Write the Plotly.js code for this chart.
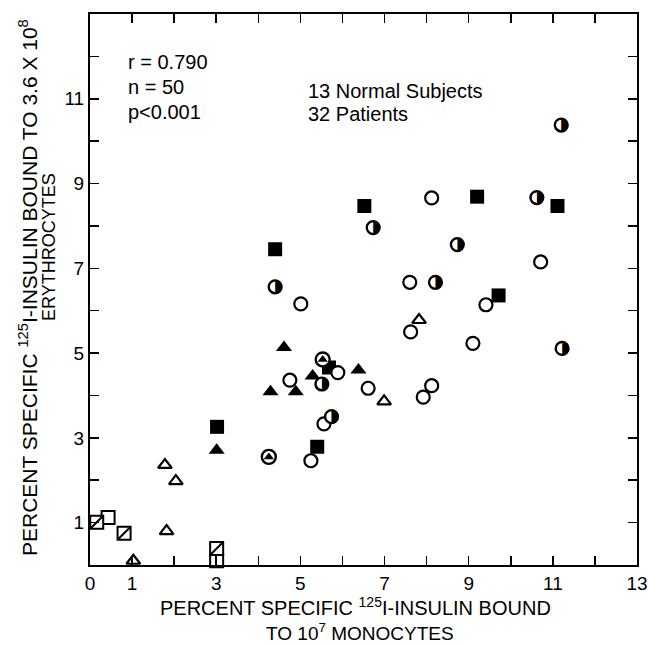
<!DOCTYPE html>
<html>
<head>
<meta charset="utf-8">
<script src="https://cdn.plot.ly/plotly-3.0.1.min.js"></script>
<style>html,body{margin:0;padding:0;background:#fff;}#chart{width:648px;height:646px;}</style>
</head>
<body>
<div id="chart"></div>
<script>
// Filled squares
const sqFilledX = [6.52, 4.40, 9.20, 11.11, 9.71, 5.68, 3.02, 5.40];
const sqFilledY = [8.47, 7.45, 8.69, 8.47, 6.36, 4.66, 3.26, 2.79];
// Filled triangles
const triFilledX = [4.61, 6.38, 5.29, 4.29, 4.89, 3.01];
const triFilledY = [5.13, 4.60, 4.46, 4.09, 4.09, 2.71];
// Open circles
const circOpenX = [5.01, 7.60, 7.62, 8.12, 10.71, 9.41, 9.10, 8.12, 7.92, 5.89, 4.75, 6.61, 5.56, 5.25];
const circOpenY = [6.16, 6.67, 5.50, 8.66, 7.15, 6.14, 5.23, 4.23, 3.96, 4.54, 4.36, 4.17, 3.33, 2.46];
// Half-filled circles
const halfX = [6.73, 4.40, 11.20, 10.62, 8.73, 8.21, 11.22, 5.51, 5.74];
const halfY = [7.96, 6.56, 10.38, 8.67, 7.56, 6.67, 5.11, 4.27, 3.50];
// Circles with filled triangle inside
const circTriX = [5.53, 4.25];
const circTriY = [4.85, 2.55];
// Open triangles
const triOpenX = [7.82, 6.99, 1.78, 2.04, 1.82, 1.03];
const triOpenY = [5.78, 3.86, 2.36, 1.98, 0.80, 0.10];
// Slashed squares
const sqSlashX = [0.16, 0.81, 3.01];
const sqSlashY = [1.01, 0.75, 0.39];
// Open squares
const sqOpenX = [0.43, 3.01];
const sqOpenY = [1.12, 0.10];

const xTickVals = [0,1,2,3,4,5,6,7,8,9,10,11,12,13];
const xTickText = ['0','1','','3','','5','','7','','9','','11','','13'];
const yTickVals = [0,1,2,3,4,5,6,7,8,9,10,11,12,13];
const yTickText = ['','1','','3','','5','','7','','9','','11','',''];

const statsLines = ['r = 0.790', 'n = 50', 'p<0.001'];
const groupLines = ['13 Normal Subjects', '32 Patients'];
const yTitle1 = 'PERCENT SPECIFIC <sup>125</sup>I-INSULIN BOUND TO 3.6 X 10<sup>8</sup>';
const yTitle2 = 'ERYTHROCYTES';
const xTitle1 = 'PERCENT SPECIFIC <sup>125</sup>I-INSULIN BOUND';
const xTitle2 = 'TO 10<sup>7</sup> MONOCYTES';

const FONT = 'Liberation Sans, Arial, sans-serif';
function mk(x, y, symbol, size, color, lw, lc) {
  return {x: x, y: y, type: 'scatter', mode: 'markers', cliponaxis: false, hoverinfo: 'skip',
    marker: {symbol: symbol, size: size, color: color, line: {width: lw, color: lc || '#000'}}};
}
const traces = [
  mk(sqFilledX, sqFilledY, 'square', 14, '#000', 0),
  mk(triFilledX, triFilledY, 'triangle-up', 14, '#000', 0),
  mk(sqOpenX, sqOpenY, 'square', 13, '#fff', 2),
  mk(sqSlashX, sqSlashY, 'square', 13, '#fff', 2),
  mk(sqSlashX, sqSlashY, 'line-ne', 11, '#000', 2),
  mk(triOpenX, triOpenY, 'triangle-up', 12, '#fff', 2.2),
  mk(circOpenX, circOpenY, 'circle', 13, '#fff', 2.2),
  mk(circTriX, circTriY, 'circle', 14, '#fff', 2.4),
  mk(circTriX, circTriY, 'triangle-up', 9, '#000', 0),
  mk(halfX, halfY, 'circle', 13, '#fff', 2.2),
  {x: halfX, y: halfY, type: 'scatter', mode: 'text', text: halfX.map(() => '\u25D1'), cliponaxis: false, hoverinfo: 'skip',
   textposition: 'middle center', textfont: {family: 'DejaVu Sans', size: 17, color: '#000'}}
];

const annotations = [];
statsLines.forEach((t, i) => annotations.push({xref: 'paper', yref: 'paper', x: 0.066, y: 0.913 - i * 0.0455, xanchor: 'left', yanchor: 'middle', text: t, showarrow: false, font: {family: FONT, size: 20, color: '#000'}}));
groupLines.forEach((t, i) => annotations.push({xref: 'paper', yref: 'paper', x: 0.394, y: 0.861 - i * 0.042, xanchor: 'left', yanchor: 'middle', text: t, showarrow: false, font: {family: FONT, size: 20, color: '#000'}}));
annotations.push({xref: 'paper', yref: 'paper', x: -0.112, y: 0.504, xanchor: 'center', yanchor: 'middle', textangle: -90, showarrow: false,
  text: yTitle1, font: {family: FONT, size: 21, color: '#000'}});
annotations.push({xref: 'paper', yref: 'paper', x: -0.075, y: 0.577, xanchor: 'center', yanchor: 'middle', textangle: -90, showarrow: false,
  text: yTitle2, font: {family: FONT, size: 18, color: '#000'}});
annotations.push({xref: 'paper', yref: 'paper', x: 0.486, y: -0.076, xanchor: 'center', yanchor: 'middle', showarrow: false,
  text: xTitle1, font: {family: FONT, size: 20, color: '#000'}});
annotations.push({xref: 'paper', yref: 'paper', x: 0.494, y: -0.122, xanchor: 'center', yanchor: 'middle', showarrow: false,
  text: xTitle2, font: {family: FONT, size: 19, color: '#000'}});

const axisCommon = {showgrid: false, zeroline: false, showline: true, linewidth: 2, linecolor: '#000', mirror: 'ticks',
  ticks: 'inside', ticklen: 9, tickwidth: 1.5, tickcolor: '#000', tickmode: 'array', range: [0, 13],
  tickfont: {family: FONT, size: 19, color: '#000'}, fixedrange: true};

const layout = {
  width: 648, height: 646, showlegend: false,
  margin: {l: 90, r: 11, t: 14, b: 81},
  paper_bgcolor: '#fff', plot_bgcolor: '#fff',
  xaxis: Object.assign({}, axisCommon, {tickvals: xTickVals, ticktext: xTickText}),
  yaxis: Object.assign({}, axisCommon, {tickvals: yTickVals, ticktext: yTickText}),
  annotations: annotations
};
Plotly.newPlot('chart', traces, layout, {displayModeBar: false, staticPlot: true});
</script>
</body>
</html>
